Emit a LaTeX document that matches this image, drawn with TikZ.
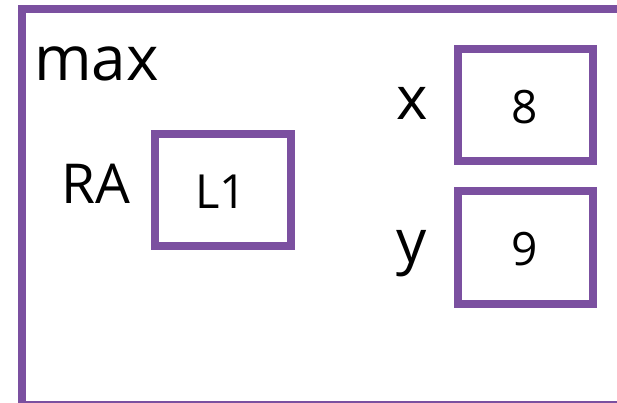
\documentclass[tikz,border=0pt]{standalone}
\usepackage{fontspec}
\setmainfont{Open Sans}
\definecolor{frame}{RGB}{123,80,160}
\begin{document}
\begin{tikzpicture}[x=1pt,y=-1pt,
  cell/.style={draw=frame,line width=8pt},
  lbl/.style={inner sep=0pt,anchor=base west},
  val/.style={inner sep=0pt,anchor=base}]
\useasboundingbox (0,0) rectangle (617,403);
\begin{scope}
\clip (0,0) rectangle (617,403);
\draw[cell] (21.5,9.5) rectangle (640,405);
\end{scope}
\node[lbl,font=\fontsize{62}{66}\selectfont] (max) at (34,81) {max};
\node[lbl,font=\fontsize{55}{60}\selectfont] (ra) at (61,203) {RA};
\draw[cell] (155,134) rectangle (291,246);
\node[val,font=\fontsize{47}{52}\selectfont] (l1) at (221,208) {L1};
\node[lbl,font=\fontsize{60}{64}\selectfont] (x) at (396,120) {x};
\draw[cell] (457.5,49) rectangle (593,161);
\node[val,font=\fontsize{46}{50}\selectfont] (xv) at (525,124) {8};
\node[lbl,font=\fontsize{60}{64}\selectfont] (y) at (396,262) {y};
\draw[cell] (457.5,191) rectangle (593,304);
\node[val,font=\fontsize{46}{50}\selectfont] (yv) at (525,265) {9};
\end{tikzpicture}
\end{document}
